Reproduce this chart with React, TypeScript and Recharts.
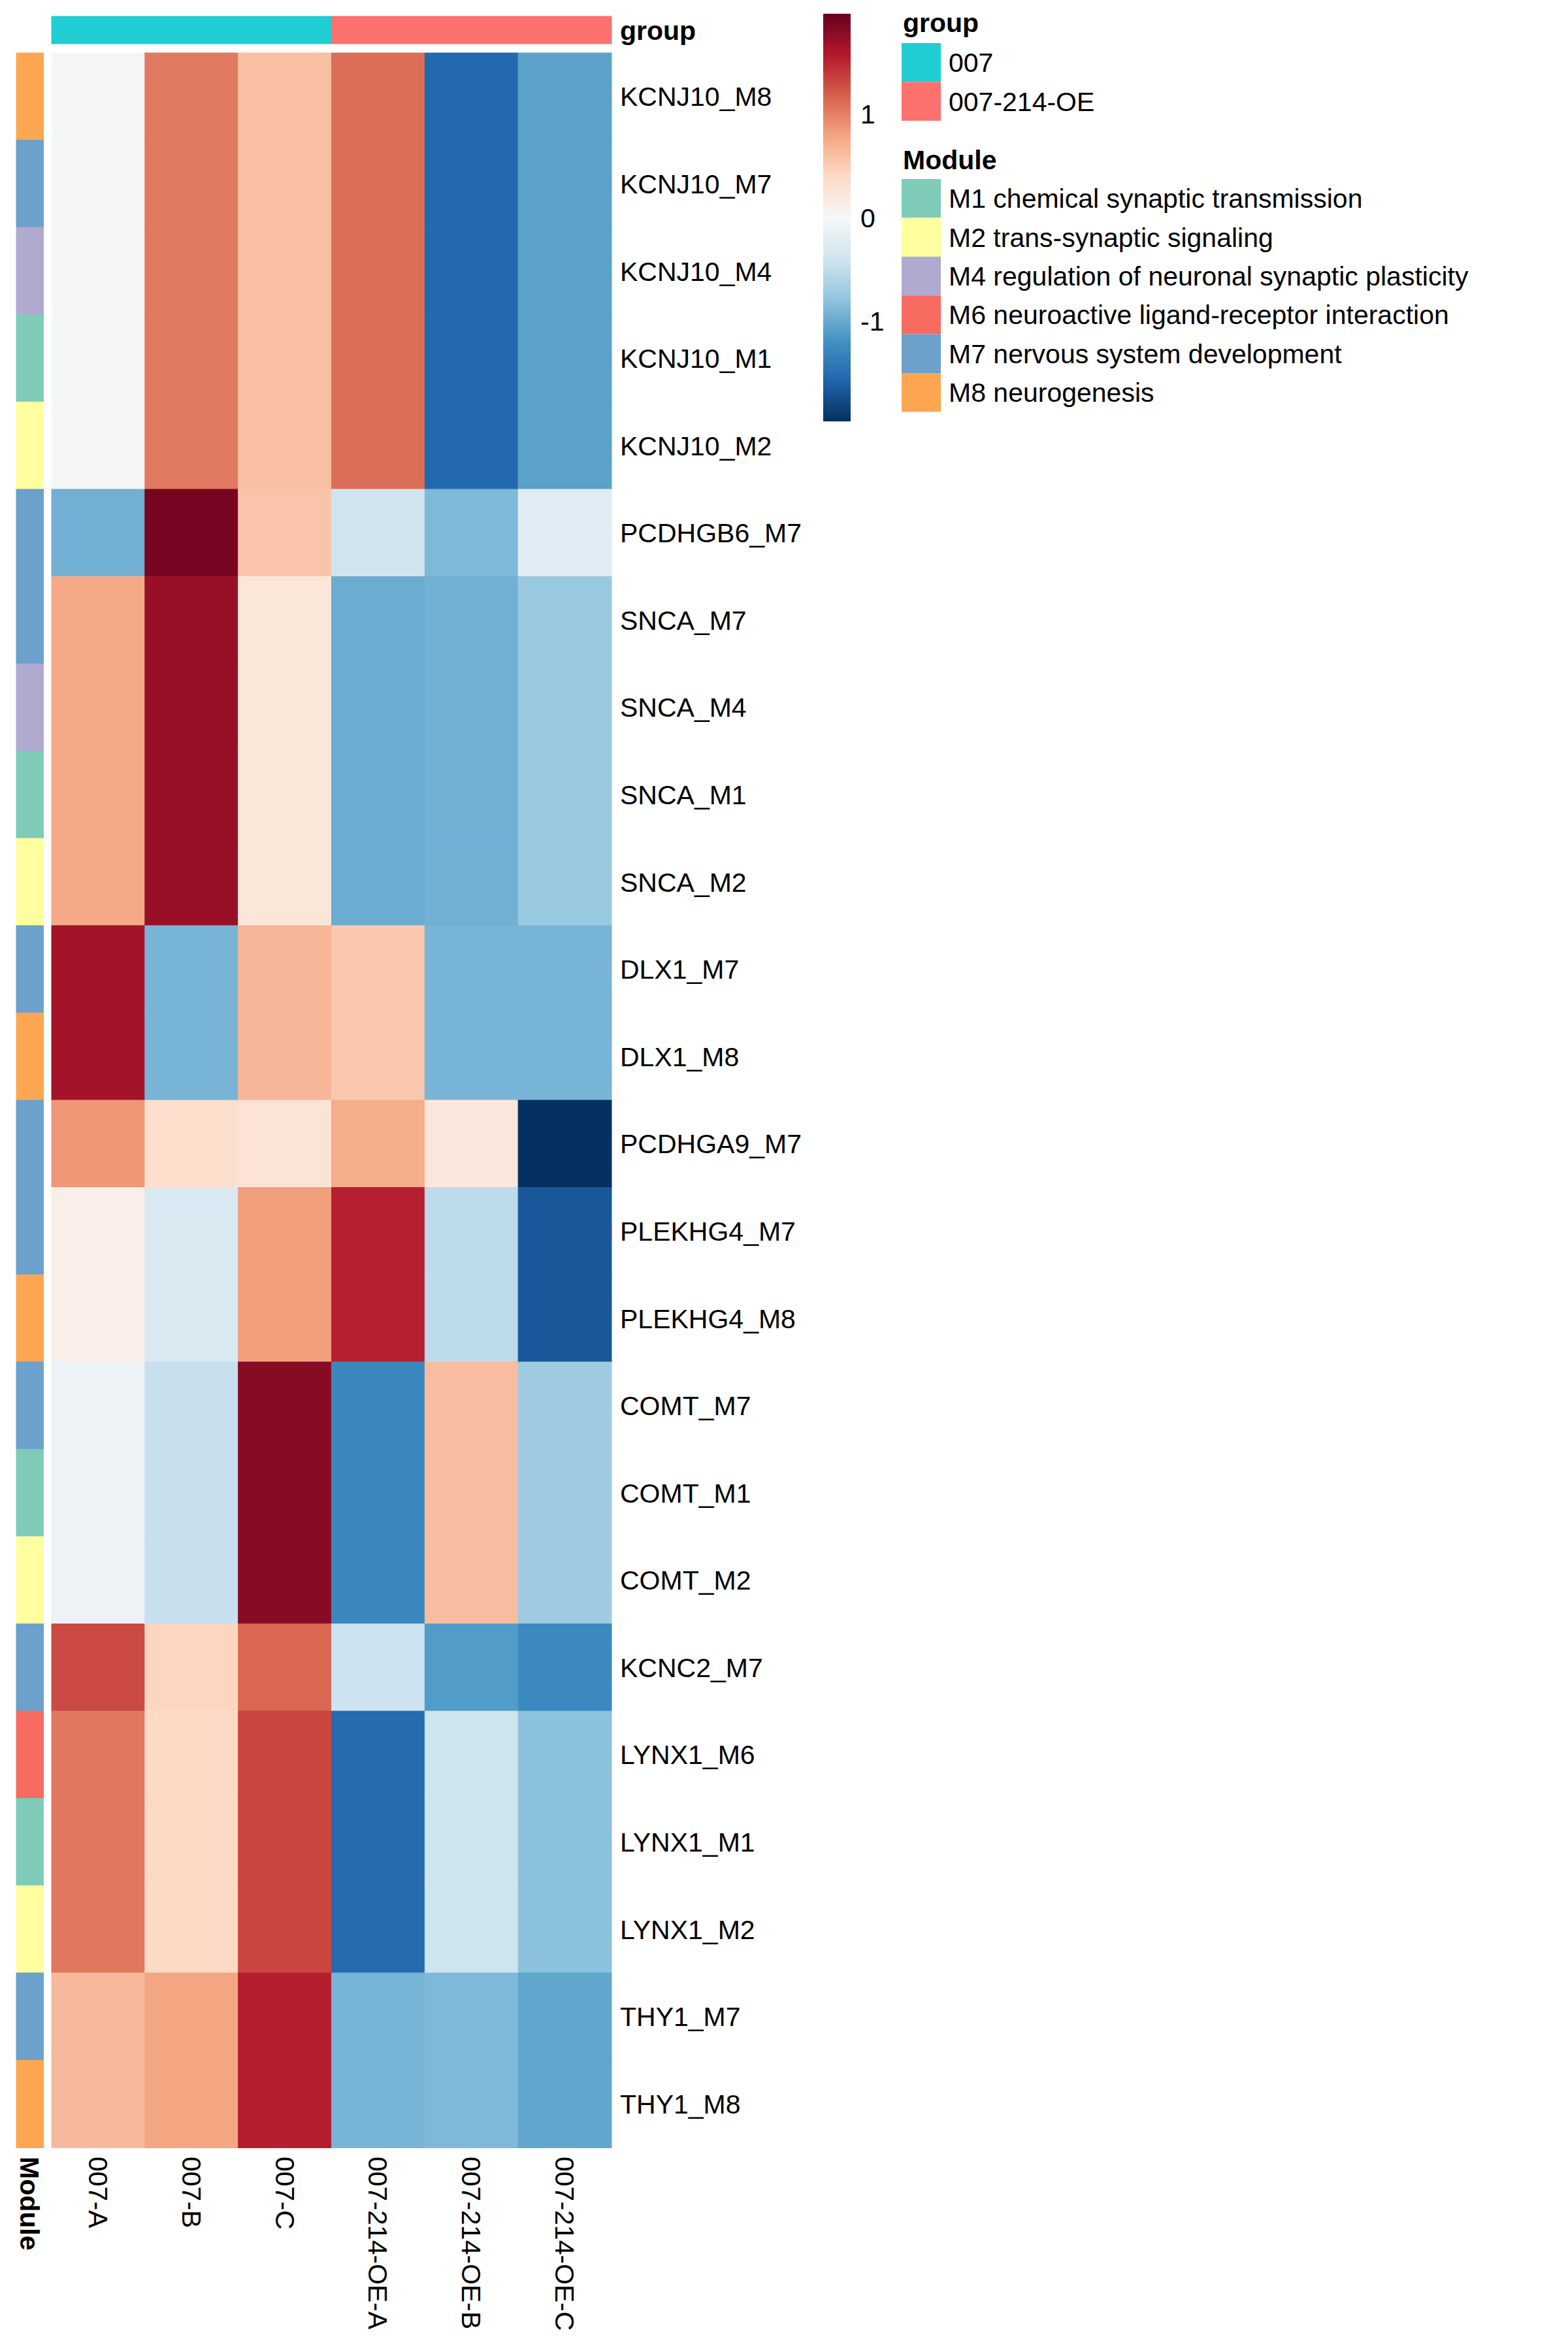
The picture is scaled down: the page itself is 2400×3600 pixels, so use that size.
import React from "react";
import { Bar, BarChart, Cell, XAxis, YAxis } from "recharts";

const FONT = "'Liberation Sans', Arial, Helvetica, sans-serif";

const rowLabels = [
  "KCNJ10_M8", "KCNJ10_M7", "KCNJ10_M4", "KCNJ10_M1", "KCNJ10_M2",
  "PCDHGB6_M7",
  "SNCA_M7", "SNCA_M4", "SNCA_M1", "SNCA_M2",
  "DLX1_M7", "DLX1_M8",
  "PCDHGA9_M7",
  "PLEKHG4_M7", "PLEKHG4_M8",
  "COMT_M7", "COMT_M1", "COMT_M2",
  "KCNC2_M7",
  "LYNX1_M6", "LYNX1_M1", "LYNX1_M2",
  "THY1_M7", "THY1_M8",
];

const sampleLabels = ["007-A", "007-B", "007-C", "007-214-OE-A", "007-214-OE-B", "007-214-OE-C"];
const sampleGroups = ["007", "007", "007", "007-214-OE", "007-214-OE", "007-214-OE"];

const groupLevels = ["007", "007-214-OE"];
const groupColors = ["#1FCDD2", "#FC716E"];

const moduleLevels = ["M1", "M2", "M4", "M6", "M7", "M8"];
const moduleNames = [
  "M1 chemical synaptic transmission",
  "M2 trans-synaptic signaling",
  "M4 regulation of neuronal synaptic plasticity",
  "M6 neuroactive ligand-receptor interaction",
  "M7 nervous system development",
  "M8 neurogenesis",
];
const moduleColors = ["#7FCBBA", "#FFFFA0", "#B0A9D0", "#F76B61", "#6BA1CA", "#FCA652"];

// row-scaled values, one array per sample, rows top to bottom
const val007A = [-0.03, -0.03, -0.03, -0.03, -0.03, -0.95, 0.76, 0.76, 0.76, 0.76, 1.65, 1.65, 0.86, 0.12, 0.12, -0.11, -0.11, -0.11, 1.3, 1.05, 1.05, 1.05, 0.64, 0.64];
const val007B = [1.03, 1.03, 1.03, 1.03, 1.03, 1.88, 1.71, 1.71, 1.71, 1.71, -0.92, -0.92, 0.34, -0.3, -0.3, -0.45, -0.45, -0.45, 0.43, 0.4, 0.4, 0.4, 0.78, 0.78];
const val007C = [0.6, 0.6, 0.6, 0.6, 0.6, 0.56, 0.24, 0.24, 0.24, 0.24, 0.66, 0.66, 0.28, 0.82, 0.82, 1.79, 1.79, 1.79, 1.14, 1.32, 1.32, 1.32, 1.54, 1.54];
const valOEA = [1.1, 1.1, 1.1, 1.1, 1.1, -0.4, -0.98, -0.98, -0.98, -0.98, 0.53, 0.53, 0.73, 1.53, 1.53, -1.28, -1.28, -1.28, -0.42, -1.53, -1.53, -1.53, -0.92, -0.92];
const valOEB = [-1.55, -1.55, -1.55, -1.55, -1.55, -0.88, -0.95, -0.95, -0.95, -0.95, -0.92, -0.92, 0.22, -0.51, -0.51, 0.61, 0.61, 0.61, -1.11, -0.41, -0.41, -0.41, -0.88, -0.88];
const valOEC = [-1.06, -1.06, -1.06, -1.06, -1.06, -0.25, -0.74, -0.74, -0.74, -0.74, -0.92, -0.92, -1.96, -1.67, -1.67, -0.71, -0.71, -0.71, -1.27, -0.82, -0.82, -0.82, -1.03, -1.03];
const sampleValues = [val007A, val007B, val007C, valOEA, valOEB, valOEC];

const scaleMin = -1.965;
const scaleMax = 1.965;
const colorTicks = [-1, 0, 1];

const rdbu = [
  "#053061", "#2166AC", "#4393C3", "#92C5DE", "#D1E5F0", "#F7F7F7",
  "#FDDBC7", "#F4A582", "#D6604D", "#B2182B", "#67001F",
];

const hexRgb = (h: string) => [1, 3, 5].map((i) => parseInt(h.slice(i, i + 2), 16));

const valueColor = (v: number) => {
  let t = (v - scaleMin) / (scaleMax - scaleMin);
  t = Math.max(0, Math.min(1, t));
  const pos = t * (rdbu.length - 1);
  const i = Math.min(Math.floor(pos), rdbu.length - 2);
  const f = pos - i;
  const a = hexRgb(rdbu[i]);
  const b = hexRgb(rdbu[i + 1]);
  const c = a.map((x, k) => Math.round(x + (b[k] - x) * f));
  return `rgb(${c[0]},${c[1]},${c[2]})`;
};

const rowModule = (label: string) => label.split("_").pop() as string;
const moduleColor = (m: string) => moduleColors[moduleLevels.indexOf(m)];
const groupColor = (g: string) => groupColors[groupLevels.indexOf(g)];

const heatData = rowLabels.map((name) => {
  const row: any = { name };
  sampleLabels.forEach((_, j) => (row["c" + j] = 1));
  return row;
});
const moduleData = rowLabels.map((name) => ({ name, m: 1 }));
const groupData = [
  (() => {
    const row: any = { name: "group" };
    sampleLabels.forEach((_, j) => (row["c" + j] = 1));
    return row;
  })(),
];
const scaleData = [{ name: "scale", range: [scaleMin, scaleMax] }];

const RowTick = (props: any) => (
  <text x={props.x} y={props.y} dy="0.355em" fontSize={41} fontFamily={FONT} fill="#000">
    {props.payload.value}
  </text>
);

const BoldTick = (props: any) => (
  <text x={props.x} y={props.y} dy="0.355em" fontSize={41} fontWeight="bold" fontFamily={FONT} fill="#000">
    {props.payload.value}
  </text>
);

const ColTick = (props: any) => (
  <text
    transform={`translate(${props.x},${props.y}) rotate(90)`}
    dy="0.355em"
    fontSize={41}
    fontFamily={FONT}
    fill="#000"
  >
    {sampleLabels[Math.floor(props.payload.value)]}
  </text>
);

const ModuleTick = (props: any) => (
  <text
    transform={`translate(${props.x},${props.y}) rotate(90)`}
    dy="0.355em"
    fontSize={41}
    fontWeight="bold"
    fontFamily={FONT}
    fill="#000"
  >
    Module
  </text>
);

const ScaleTick = (props: any) => (
  <text x={props.x} y={props.y} dy="0.355em" fontSize={41} fontFamily={FONT} fill="#000">
    {props.payload.value}
  </text>
);

const abs = (left: number, top: number): React.CSSProperties => ({ position: "absolute", left, top });

export default function App() {
  return (
    <div style={{ position: "absolute", left: 0, top: 0, width: 2400, height: 3600, background: "#fff" }}>
      {/* heatmap body */}
      <div style={abs(0, 0)}>
        <BarChart
          width={1300}
          height={3600}
          data={heatData}
          layout="vertical"
          barCategoryGap={0}
          barGap={0}
          margin={{ top: 81, bottom: 13, left: 79, right: 0 }}
        >
          <XAxis
            type="number"
            domain={[0, 6]}
            ticks={[0.5, 1.5, 2.5, 3.5, 4.5, 5.5]}
            height={300}
            axisLine={false}
            tickLine={false}
            tickSize={0}
            tickMargin={14}
            tick={<ColTick />}
            interval={0}
          />
          <YAxis
            type="category"
            dataKey="name"
            orientation="right"
            width={364}
            axisLine={false}
            tickLine={false}
            tickSize={0}
            tickMargin={13}
            tick={<RowTick />}
            interval={0}
          />
          {sampleLabels.map((s, j) => (
            <Bar key={s} dataKey={"c" + j} stackId="h" isAnimationActive={false}>
              {rowLabels.map((r, i) => {
                const c = valueColor(sampleValues[j][i]);
                return <Cell key={r} fill={c} stroke={c} strokeWidth={1} />;
              })}
            </Bar>
          ))}
        </BarChart>
      </div>

      {/* module annotation */}
      <div style={abs(0, 0)}>
        <BarChart
          width={67}
          height={3600}
          data={moduleData}
          layout="vertical"
          barCategoryGap={0}
          margin={{ top: 81, bottom: 13, left: 25, right: 0 }}
        >
          <XAxis
            type="number"
            domain={[0, 1]}
            ticks={[0.5]}
            height={300}
            axisLine={false}
            tickLine={false}
            tickSize={0}
            tickMargin={14}
            tick={<ModuleTick />}
          />
          <YAxis type="category" dataKey="name" hide />
          <Bar dataKey="m" isAnimationActive={false}>
            {rowLabels.map((r) => {
              const c = moduleColor(rowModule(r));
              return <Cell key={r} fill={c} stroke={c} strokeWidth={1} />;
            })}
          </Bar>
        </BarChart>
      </div>

      {/* group annotation */}
      <div style={abs(0, 0)}>
        <BarChart
          width={1300}
          height={80}
          data={groupData}
          layout="vertical"
          barCategoryGap={0}
          barGap={0}
          margin={{ top: 25, bottom: 13, left: 79, right: 0 }}
        >
          <XAxis type="number" domain={[0, 6]} hide />
          <YAxis
            type="category"
            dataKey="name"
            orientation="right"
            width={364}
            axisLine={false}
            tickLine={false}
            tickSize={0}
            tickMargin={13}
            tick={<BoldTick />}
          />
          {sampleLabels.map((s, j) => {
            const c = groupColor(sampleGroups[j]);
            return (
              <Bar key={s} dataKey={"c" + j} stackId="g" isAnimationActive={false}>
                <Cell fill={c} stroke={c} strokeWidth={1} />
              </Bar>
            );
          })}
        </BarChart>
      </div>

      {/* colour scale */}
      <div style={abs(1200, 0)}>
        <BarChart
          width={200}
          height={700}
          data={scaleData}
          barCategoryGap={0}
          margin={{ top: 21, bottom: 55, left: 60, right: 0 }}
        >
          <defs>
            <linearGradient id="rdbuGrad" x1="0" y1="0" x2="0" y2="1">
              {rdbu
                .slice()
                .reverse()
                .map((c, i) => (
                  <stop key={c} offset={i / (rdbu.length - 1)} stopColor={c} />
                ))}
            </linearGradient>
          </defs>
          <XAxis dataKey="name" hide />
          <YAxis
            type="number"
            domain={[scaleMin, scaleMax]}
            allowDataOverflow
            ticks={colorTicks}
            orientation="right"
            width={98}
            axisLine={false}
            tickLine={false}
            tickSize={0}
            tickMargin={15}
            tick={<ScaleTick />}
            interval={0}
          />
          <Bar dataKey="range" fill="url(#rdbuGrad)" isAnimationActive={false} />
        </BarChart>
      </div>

      {/* annotation legends */}
      <svg style={abs(1370, 0)} width={1030} height={700}>
        <text x={12} y={49} fontSize={41} fontWeight="bold" fontFamily={FONT} fill="#000">
          group
        </text>
        {groupLevels.map((g, i) => (
          <g key={g}>
            <rect x={10} y={66 + i * 59.4} width={60} height={59.4} fill={groupColors[i]} />
            <text x={82} y={66 + i * 59.4 + 29.7} dy="0.355em" fontSize={41} fontFamily={FONT} fill="#000">
              {g}
            </text>
          </g>
        ))}
        <text x={12} y={259} fontSize={41} fontWeight="bold" fontFamily={FONT} fill="#000">
          Module
        </text>
        {moduleNames.map((m, i) => (
          <g key={m}>
            <rect x={10} y={274 + i * 59.4} width={60} height={59.4} fill={moduleColors[i]} />
            <text x={82} y={274 + i * 59.4 + 29.7} dy="0.355em" fontSize={41} fontFamily={FONT} fill="#000">
              {m}
            </text>
          </g>
        ))}
      </svg>
    </div>
  );
}
